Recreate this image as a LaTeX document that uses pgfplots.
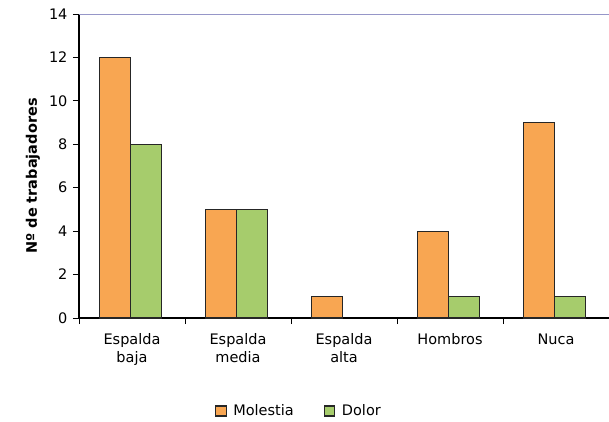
\documentclass[border=0pt]{standalone}
\usepackage{pgfplots}
\pgfplotsset{compat=1.18}
\usepackage{fontspec}
\setmainfont{DejaVu Sans}
\definecolor{barorange}{RGB}{248,166,82}
\definecolor{bargreen}{RGB}{166,204,108}
\definecolor{frameblue}{RGB}{150,150,200}
\newcommand{\cf}{\fontsize{14.5}{18}\selectfont}
\begin{document}
\begin{tikzpicture}[x=1pt,y=1pt]
\useasboundingbox (0,0) rectangle (609,421);
\begin{axis}[
  at={(79pt,103pt)}, anchor=south west,
  width=530pt, height=304pt, scale only axis,
  clip=false,
  ymin=0, ymax=14, ytick={0,2,...,14},
  xmin=-0.5, xmax=4.5,
  xtick={-0.5,0.5,1.5,2.5,3.5,4.5},
  xticklabels={{Espalda\\baja},{Espalda\\media},{Espalda\\alta},Hombros,Nuca},
  x tick label as interval,
  x tick label style={align=center, font=\cf, yshift=-6pt},
  y tick label style={font=\cf, xshift=-2pt},
  /pgf/number format/assume math mode=true,
  axis x line*=bottom, axis y line*=left,
  axis line style={black, line width=1.2pt},
  tick align=outside, major tick length=6pt,
  tick style={black, line width=1pt},
  ybar=0pt, bar width=31pt,
  ylabel={\bfseries Nº de trabajadores},
  ylabel style={at={(axis description cs:-0.087,0.467)}, anchor=center, font=\cf},
  legend style={at={(axis description cs:0.415,-0.306)}, anchor=center, draw=none,
    legend columns=2, font=\cf,
    /tikz/every even column/.append style={column sep=28pt}},
  legend image code/.code={\draw[#1, line width=1.2pt] (0pt,-5pt) rectangle (10.5pt,5pt); \path (15pt,0pt);},
]
\addplot[fill=barorange, draw=black!85, line width=1.2pt, bar shift=-17pt] coordinates {(0,12) (1,5) (2,1) (3,4) (4,9)};
\addplot[fill=bargreen, draw=black!85, line width=1.2pt, bar shift=14pt] coordinates {(0,8) (1,5) (3,1) (4,1)};
\legend{Molestia, Dolor}
\draw[frameblue, line width=1pt] (rel axis cs:0,1) -- (rel axis cs:1,1) -- (rel axis cs:1,0);
\end{axis}
\end{tikzpicture}
\end{document}
